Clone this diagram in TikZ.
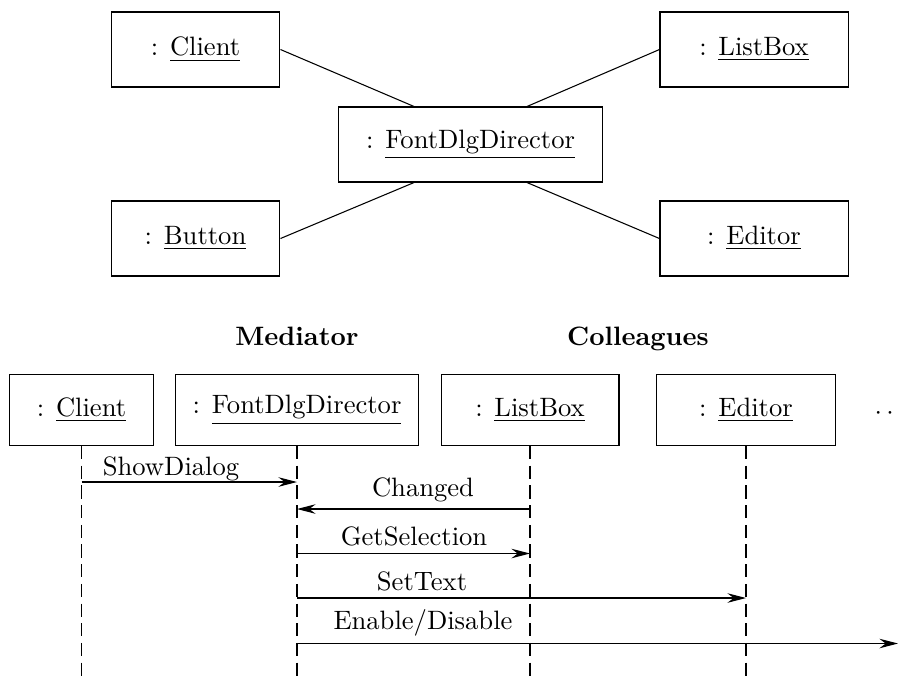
\documentclass[tikz,border=0pt]{standalone}
\usetikzlibrary{arrows.meta,calc}
\begin{document}
\begin{tikzpicture}[x=0.376pt,y=-0.376pt,
  line width=0.4pt,
  objbox/.style={draw,rectangle,inner sep=0pt,align=center},
  topsmall/.style={objbox,minimum width=63.5pt,minimum height=28.2pt},
  topwide/.style={objbox,minimum width=70.7pt,minimum height=28.2pt},
  lifeline/.style={dash pattern=on 5pt off 2.4pt},
  msg/.style={-{Stealth[length=7pt,width=3.6pt,inset=2.4pt]}},
  msglabel/.style={anchor=base,inner sep=0pt},
  heading/.style={anchor=base,inner sep=0pt,font=\bfseries}]
\useasboundingbox (0,0) rectangle (898,677);

% collaboration diagram
\node[topsmall] (client) at (195.5,49.5) {: \underline{Client}};
\node[topwide]  (listbox) at (754,49.5) {: \underline{ListBox}};
\node[objbox,minimum width=99.3pt,minimum height=28.2pt] (director) at (470.5,144.5) {: \underline{FontDlgDirector}};
\node[topsmall] (button) at (195.5,238.5) {: \underline{Button}};
\node[topwide]  (editor) at (754,238.5) {: \underline{Editor}};

\draw (client.east) -- ($(director.north)+(-56.5,0)$);
\draw (listbox.west) -- ($(director.north)+(56.5,0)$);
\draw (button.east) -- ($(director.south)+(-56.5,0)$);
\draw (editor.west) -- ($(director.south)+(56.5,0)$);

% sequence diagram
\node[heading] (hmed) at (297,345) {Mediator};
\node[heading] (hcol) at (638,345) {Colleagues};

\node[objbox,minimum width=53.8pt,minimum height=26.7pt] (sclient) at (81.5,410) {: \underline{Client}};
\node[objbox,minimum width=91.7pt,minimum height=26.7pt] (sdirector) at (297,410) {: \underline{FontDlgDirector}};
\node[objbox,minimum width=66.9pt,minimum height=26.7pt] (slistbox) at (530,410) {: \underline{ListBox}};
\node[objbox,minimum width=67.3pt,minimum height=26.7pt] (seditor) at (746,410) {: \underline{Editor}};
\node[anchor=base west,inner sep=0pt] (more) at (874,419) {$\cdots$};

\coordinate (bot) at (0,677);
\foreach \obj in {sclient,sdirector,slistbox,seditor}
  \draw[lifeline] (\obj.south) -- (\obj.south |- bot);

\coordinate (m1) at (0,482);
\coordinate (m2) at (0,509);
\coordinate (m3) at (0,553.5);
\coordinate (m4) at (0,598);
\coordinate (m5) at (898,643.5);

\draw[msg] (sclient |- m1) -- (sdirector |- m1);
\draw[msg] (slistbox |- m2) -- (sdirector |- m2);
\draw[msg] (sdirector |- m3) -- (slistbox |- m3);
\draw[msg] (sdirector |- m4) -- (seditor |- m4);
\draw[msg] (sdirector |- m5) -- (m5);

\node[msglabel] (l1) at (171,475) {ShowDialog};
\node[msglabel] (l2) at (423,496) {Changed};
\node[msglabel] (l3) at (414,545) {GetSelection};
\node[msglabel] (l4) at (422,590) {SetText};
\node[msglabel] (l5) at (423,629) {Enable/Disable};
\end{tikzpicture}
\end{document}
